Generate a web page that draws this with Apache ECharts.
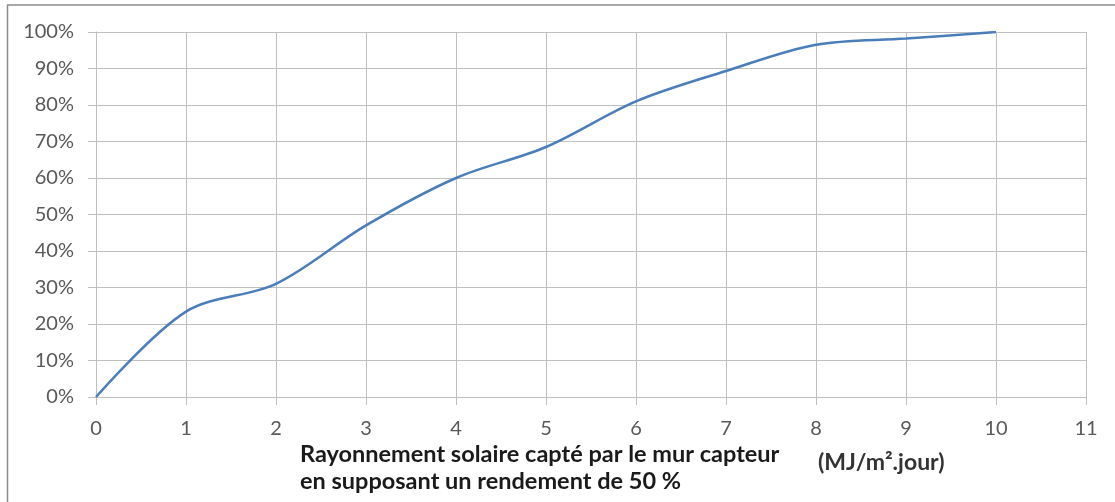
<!DOCTYPE html>
<html>
<head>
<meta charset="utf-8">
<script src="https://cdn.jsdelivr.net/npm/echarts@6/dist/echarts.min.js"></script>
<style>
  html, body { margin: 0; padding: 0; background: #fff; }
  #chart { width: 1115px; height: 502px; }
</style>
</head>
<body>
<div id="chart"></div>
<script>
// Rayonnement capté (MJ/m².jour) vs part couverte (%)
const rayonnement = [0, 1, 2, 3, 4, 5, 6, 7, 8, 9, 10];
const couverture = [0, 23.4, 31, 47, 60, 68.5, 81, 89.3, 96.5, 98.2, 100];

const gridColor = "#bfbfbf";
const labelColor = "#595959";

const chart = echarts.init(document.getElementById("chart"), null, {
  renderer: "canvas",
});

chart.setOption({
  animation: false,
  backgroundColor: "#fff",
  grid: { left: 96, right: 29, top: 32, bottom: 105 },
  xAxis: {
    type: "value",
    min: 0,
    max: 11,
    interval: 1,
    axisLine: { lineStyle: { color: gridColor, width: 1 } },
    axisTick: { show: true, length: 8, lineStyle: { color: gridColor } },
    axisLabel: {
      color: labelColor,
      fontFamily: "Lato",
      fontSize: 20,
      margin: 22,
    },
    splitLine: { show: true, lineStyle: { color: gridColor, width: 1 } },
  },
  yAxis: {
    type: "value",
    min: 0,
    max: 100,
    interval: 10,
    axisLine: { show: true, lineStyle: { color: gridColor, width: 1 } },
    axisTick: { show: true, length: 8, lineStyle: { color: gridColor } },
    axisLabel: {
      color: labelColor,
      fontFamily: "Lato",
      fontSize: 20,
      margin: 22,
      formatter: "{value}%",
    },
    splitLine: { show: true, lineStyle: { color: gridColor, width: 1 } },
  },
  graphic: [
    {
      type: "rect",
      shape: { x: 7.5, y: 5, width: 1300, height: 700 },
      style: { fill: "none", stroke: "#8c8c8c", lineWidth: 1.5 },
      silent: true,
    },
    {
      type: "text",
      left: 300,
      top: 441,
      style: {
        text: "Rayonnement solaire capté par le mur capteur\nen supposant un rendement de 50 %",
        fill: "#1a1a1a",
        font: "bold 23.5px Lato",
        lineHeight: 27,
      },
    },
    {
      type: "text",
      left: 818,
      top: 451,
      style: {
        text: "(MJ/m².jour)",
        fill: "#333",
        font: "bold 23px Lato",
      },
    },
  ],
  series: [
    {
      name: "Couverture",
      type: "line",
      data: rayonnement.map((x, i) => [x, couverture[i]]),
      smooth: 0.33,
      symbol: "none",
      lineStyle: { color: "#4a7ebb", width: 2.5 },
    },
  ],
});
</script>
</body>
</html>
